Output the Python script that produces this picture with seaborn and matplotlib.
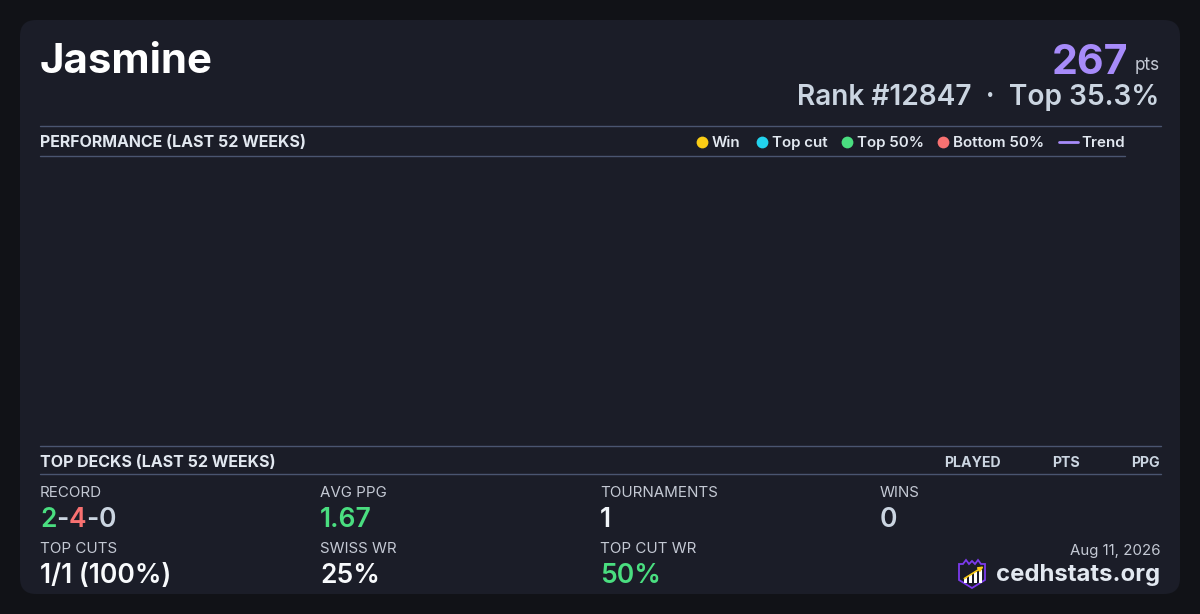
import matplotlib
matplotlib.use("Agg")
import matplotlib.pyplot as plt
from matplotlib.patches import FancyBboxPatch, Polygon
import seaborn as sns
import pandas as pd

# data
player = "Jasmine"
points = 267
rank = 12847
top_pct = 35.3
legend_labels = ["Win", "Top cut", "Top 50%", "Bottom 50%"]
legend_colors = ["#facc15", "#22d3ee", "#4ade80", "#f87171"]
week_idx = []        # no results in the last 52 weeks
week_points = []
table_cols = ["PLAYED", "PTS", "PPG"]
wins, losses, draws = 2, 4, 0
stat_labels = ["RECORD", "AVG PPG", "TOURNAMENTS", "WINS", "TOP CUTS", "SWISS WR", "TOP CUT WR"]
stat_values = [None, "1.67", "1", "0", "1/1 (100%)", "25%", "50%"]
stat_colors = [None, "#4ade80", "#f1f5f9", "#cbd5e1", "#f8fafc", "#f8fafc", "#4ade80"]
date_str = "Aug 11, 2026"

sns.set_theme(style="dark")
plt.rcParams['font.family'] = ['Inter', 'DejaVu Sans']

OUTER = "#111217"
CARD = "#1b1d28"
LINE = "#4a5570"
HEAD = "#e2e8f0"
SUB = "#c4c9d4"

fig = plt.figure(figsize=(12, 6.14), dpi=100, facecolor=OUTER)
bg = fig.add_axes([0, 0, 1, 1])
bg.set_xlim(0, 1200)
bg.set_ylim(614, 0)
bg.axis("off")
bg.set_facecolor(OUTER)

card = FancyBboxPatch((36, 36), 1128, 542, boxstyle="round,pad=16,rounding_size=16",
                      linewidth=0, facecolor=CARD)
bg.add_patch(card)

# header
bg.text(40, 73, player, color="#ffffff", fontsize=30.2, fontweight="bold", va="baseline", ha="left")
bg.text(1160, 70, "pts", color=SUB, fontsize=12.3, va="baseline", ha="right")
bg.text(1128, 74, str(points), color="#a78bfa", fontsize=29.6, fontweight="bold", va="baseline", ha="right")
bg.text(1159, 105, f"Rank #{rank}  \u00b7  Top {top_pct}%", color="#cbd5e1", fontsize=20.2,
        fontweight="semibold", va="baseline", ha="right")

# performance section
bg.plot([40, 1161], [126, 126], color=LINE, lw=1)
bg.plot([40, 1125], [156, 156], color=LINE, lw=1)
bg.text(40, 147, "PERFORMANCE (LAST 52 WEEKS)", color=HEAD, fontsize=11.5, fontweight="bold", va="baseline")

leg_x = [702, 762, 847, 943]
for lx, lab, col in zip(leg_x, legend_labels, legend_colors):
    bg.scatter([lx], [142], s=72, color=col, marker="o", linewidths=0, zorder=3)
    bg.text(lx + 10, 147, lab, color=HEAD, fontsize=10.9, fontweight="semibold", va="baseline")
bg.plot([1059, 1078], [142, 142], color="#a78bfa", lw=2)
bg.text(1081, 147, "Trend", color=HEAD, fontsize=10.9, fontweight="semibold", va="baseline")

ax = fig.add_axes([40 / 1200, 1 - 440 / 614, 1120 / 1200, 280 / 614])
perf = pd.DataFrame({"week": pd.Series(week_idx, dtype=float), "pts": pd.Series(week_points, dtype=float)})
sns.scatterplot(data=perf, x="week", y="pts", ax=ax)
sns.lineplot(data=perf, x="week", y="pts", ax=ax, color="#a78bfa")
ax.set_facecolor("none")
ax.axis("off")

# top decks section
bg.plot([40, 1161], [446, 446], color=LINE, lw=1)
bg.plot([40, 1161], [474, 474], color=LINE, lw=1)
bg.text(40, 467, "TOP DECKS (LAST 52 WEEKS)", color=HEAD, fontsize=11.5, fontweight="bold", va="baseline")
for cx, lab in zip([972, 1066, 1160], table_cols):
    bg.text(cx, 467, lab, color="#cbd5e1", fontsize=10.2, fontweight="bold", va="baseline",
            ha="right" if lab == "PPG" else "center")

# stats grid
col_x = [40, 320, 600, 880]
for i, lab in enumerate(stat_labels):
    r, c = divmod(i, 4)
    ly = 497 + r * 56
    vy = 527 + r * 56
    bg.text(col_x[c], ly, lab, color=SUB, fontsize=10.9, va="baseline")
    if stat_values[i] is None:
        t = bg.text(col_x[c], vy, str(wins), color="#4ade80", fontsize=19, fontweight="semibold", va="baseline")
        for s, col in [("-", "#cbd5e1"), (str(losses), "#f87171"), ("-", "#cbd5e1"), (str(draws), "#cbd5e1")]:
            t = bg.annotate(s, xy=(1, 0), xycoords=t, va="bottom", ha="left", color=col,
                            fontsize=19, fontweight="semibold")
    else:
        bg.text(col_x[c], vy, stat_values[i], color=stat_colors[i], fontsize=19,
                fontweight="semibold", va="baseline")

# footer
bg.text(1160, 555, date_str, color=SUB, fontsize=10.8, va="baseline", ha="right")
bg.text(1160, 581, "cedhstats.org", color=HEAD, fontsize=17.2, fontweight="bold", va="baseline", ha="right")
shield = Polygon([(959, 564), (963, 564), (966, 560), (969, 564), (972, 561), (975, 564), (978, 560),
                  (981, 564), (985, 564), (985, 580), (972, 588), (959, 580)], closed=True,
                 facecolor="none", edgecolor="#7c3aed", lw=1.3)
bg.add_patch(shield)
for bx, bh in zip([964, 969, 974, 979], [5, 8, 11, 13]):
    bg.add_patch(plt.Rectangle((bx, 583 - bh), 3, bh, color="#ffffff", lw=0))
bg.annotate("", xy=(986, 565), xytext=(962, 580),
            arrowprops=dict(arrowstyle="-|>", color="#facc15", lw=1.2, mutation_scale=7))

fig.savefig("out.png", dpi=100, facecolor=OUTER)
